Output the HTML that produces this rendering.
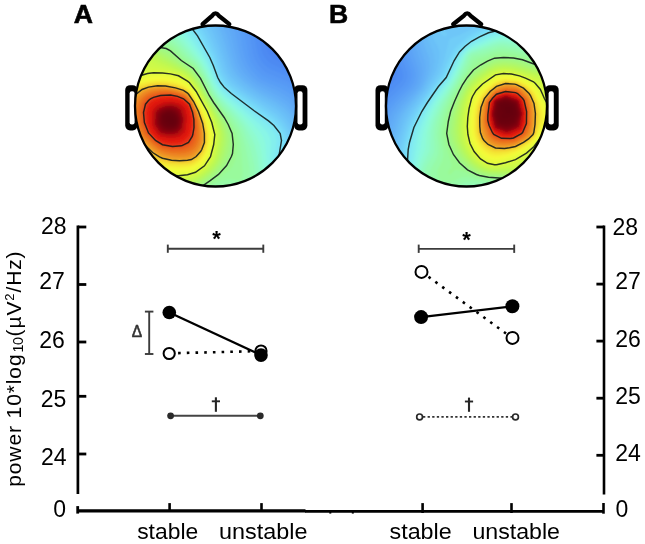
<!DOCTYPE html>
<html><head><meta charset="utf-8"><style>
html,body{margin:0;padding:0;background:#fff;}
svg{display:block;will-change:transform;}
</style></head><body>
<svg width="645" height="544" viewBox="0 0 645 544">
<defs><filter id="bl" x="-5%" y="-5%" width="110%" height="110%"><feGaussianBlur stdDeviation="1.1"/></filter></defs>
<rect width="645" height="544" fill="#fff"/>
<rect x="125.2" y="85.2" width="12.3" height="45.2" rx="4.8" fill="#000"/>
<rect x="129.6" y="91.2" width="5.0" height="33.2" rx="2.2" fill="#fff"/>
<rect x="294" y="85.2" width="13.4" height="45.2" rx="4.8" fill="#000"/>
<rect x="297.5" y="91.2" width="5.1" height="33.2" rx="2.2" fill="#fff"/>
<clipPath id="clipA"><circle cx="215.5" cy="106.0" r="81.0"/></clipPath>
<circle cx="215.5" cy="106.0" r="81.0" fill="#fff"/>
<g clip-path="url(#clipA)"><g filter="url(#bl)"><rect x="128" y="19" width="176" height="175" fill="rgb(70,126,240)"/>
<path d="M303.5 193.5 128.5 193.5 128.5 19.5 284.1 19.5 287.9 28.5 291.9 35.5 296.9 41.5 303.5 47.5 303.5 193.5Z" fill="#467ef0"/>
<path d="M303.5 193.5 128.5 193.5 128.5 19.5 277.4 19.5 281.9 32.5 286.3 40.5 292.5 47.1 303.5 55.5 303.5 193.5Z" fill="#4780f0"/>
<path d="M303.5 193.5 128.5 193.5 128.5 19.5 271.2 19.5 276.5 37.5 280.6 45.5 286.9 51.5 303.5 62.6 303.5 193.5Z" fill="#4983f1"/>
<path d="M303.5 193.5 128.5 193.5 128.5 19.5 265.6 19.5 271.2 42.5 274.5 49.6 277.1 52.5 281 55.5 295.5 63.8 303.5 69 303.5 193.5Z" fill="#4b86f2"/>
<path d="M303.5 193.5 128.5 193.5 128.5 19.5 260.3 19.5 266 46.5 267.5 50.9 269.5 54.2 275.6 59.5 292.5 68 303.5 75.2 303.5 193.5Z" fill="#4d8af2"/>
<path d="M303.5 193.5 128.5 193.5 128.5 19.5 255.2 19.5 258 30.5 261.4 49.5 263.2 54.5 265.5 58.2 268.5 61.4 272.5 64.3 290.5 72.5 303.5 81.3 303.5 193.5Z" fill="#508ff4"/>
<path d="M303.5 193.5 128.5 193.5 128.5 19.5 250.3 19.5 253.5 31.5 257 51.5 259.2 57.5 262.4 62.5 265.5 65.8 269.5 68.7 288.5 76.8 295.9 81.5 303.5 87.4 303.5 193.5Z" fill="#5394f4"/>
<path d="M303.5 193.5 128.5 193.5 128.5 19.5 245.4 19.5 248.9 31.5 252.8 53.5 255 59.5 258.6 65.5 262.5 69.7 266.5 72.7 287.5 81.7 295.5 86.8 303.5 93.4 303.5 193.5Z" fill="#5699f5"/>
<path d="M303.5 193.5 128.5 193.5 128.5 19.5 240.5 19.5 244.4 31.5 248.8 55.5 251.6 62.5 255.5 68.6 259.5 73 263.5 76.2 268.5 78.8 281.5 83.8 287.5 86.8 295.5 92.3 303.5 99.4 303.5 193.5Z" fill="#599ef6"/>
<path d="M303.5 193.5 128.5 193.5 128.5 19.5 235.5 19.5 240.1 32.5 243 49.5 245 57.5 248 64.5 251.9 70.5 257.5 76.5 262.5 80.3 280.5 88 289.5 93.1 296.5 98.6 303.5 105.5 303.5 193.5Z" fill="#5ca3f6"/>
<path d="M303.5 193.5 128.5 193.5 128.5 19.5 230.5 19.5 235.4 32.5 239.2 51.5 241.1 58.5 244 65.5 248.5 72.3 253.5 77.7 259.6 82.5 279.5 91.8 288.5 97.3 295.9 103.5 303.5 111.9 303.5 193.5Z" fill="#5fa8f6"/>
<path d="M303.5 193.5 128.5 193.5 128.5 19.5 225.4 19.5 230.9 33.5 237.6 60.5 240.8 67.5 244.5 73.1 250.6 79.5 257.5 84.8 278.6 95.5 287.5 101.3 295.5 108.7 303.5 118.7 303.5 193.5Z" fill="#62adf7"/>
<path d="M303.5 193.5 128.5 193.5 128.5 19.5 220.3 19.5 226.6 34.5 234.4 62.5 237.1 68.5 240.4 73.5 246.5 80.1 254.5 86.4 261.5 90.6 277.5 98.9 286.5 105.1 294.7 113.5 303.5 126.1 303.5 193.5Z" fill="#65b3f7"/>
<path d="M303.5 193.5 128.5 193.5 128.5 19.5 215.3 19.5 222.1 34.5 231.3 64.5 233.6 69.5 236.8 74.5 242.5 80.6 251.5 87.8 259.5 92.9 276.5 102.2 284.5 108 289.1 112.5 293.2 117.5 301.5 130.5 303.5 135 303.5 193.5Z" fill="#68baf7"/>
<path d="M301.5 193.5 128.5 193.5 128.5 19.5 210.3 19.5 214.6 27.5 218.1 35.5 228.5 66.7 231.4 72.5 234.2 76.5 240 82.5 249 89.5 257.5 95 274 104.5 281.5 109.9 288.8 117.5 297.3 130.5 299.6 135.5 301.3 141.5 303.1 154.5 303.5 182.4 302.3 193.5 301.5 193.5Z" fill="#6bc0f8"/>
<path d="M296.5 193.5 128.5 193.5 128.5 19.5 205.3 19.5 209.5 26.5 213.4 34.5 218.5 47.4 225.7 68.5 228.1 73.5 230.8 77.5 236.6 83.5 245.5 90.4 256.5 97.8 272.8 107.5 279.5 112.5 286.2 119.5 293.4 130.5 296.8 139.5 298.2 149.5 298.5 180.5 297.5 190.5 297 193.5 296.5 193.5Z" fill="#6ec6f8"/>
<path d="M291.5 193.5 128.5 193.5 128.5 19.5 200.2 19.5 205.5 27.5 209.7 35.5 216.9 52.5 223.5 71.3 228.4 79.5 233.3 84.5 241 90.5 276.9 114.5 283.5 121.2 289.7 130.5 292.8 138.5 293.7 146.5 293.4 181.5 292.6 189.5 291.9 193.5 291.5 193.5Z" fill="#71cdf8"/>
<path d="M286.5 193.5 128.5 193.5 128.5 19.5 195 19.5 201.5 28.4 206.1 36.5 214.9 55.5 221.3 73.5 226.3 81.5 230.1 85.5 236.5 90.6 274.5 116.7 280.5 122.5 286.2 130.5 288.6 136.5 289.6 143.5 288.3 160.5 288.6 181.5 287.7 189.5 286.5 193.5Z" fill="#74d5f8"/>
<path d="M281.5 193.5 128.5 193.5 128.5 19.5 189.5 19.5 190.5 20.6 197.5 29.4 202 36.5 212.3 56.5 219.3 75.5 224.5 83.6 227.5 86.8 233.5 91.7 272.5 119.4 277.9 124.5 283.2 131.5 285 136.5 285.6 142.5 283.3 159.5 284 174.5 283.8 182.5 282.8 189.5 281.5 193.5Z" fill="#79dff8"/>
<path d="M276.5 193.5 128.5 193.5 128.5 19.5 183.8 19.5 191.2 27.5 197.5 35.8 209.3 56.5 212.9 64.5 217.7 77.5 220.5 82.5 224.4 87.5 231.3 93.5 253.5 110.3 268.5 120.9 273.9 125.5 280.2 133.5 281.5 140.5 278.5 158.5 279.5 173.5 279.5 180.5 278.4 188.5 277 193.5 276.5 193.5Z" fill="#7fe8f4"/>
<path d="M271.5 193.5 128.5 193.5 128.5 19.5 177.7 19.5 187.9 29.5 195.5 39.3 207.4 58.5 210.8 65.5 215.8 78.5 219.2 84.5 222.5 88.9 229.5 95.4 265.3 123.5 272.5 130.5 275.6 135.5 276.5 140.5 274.4 157.5 275.3 173.5 275.2 180.5 273.8 188.5 272.1 193.5 271.5 193.5Z" fill="#84efed"/>
<path d="M266.5 193.5 128.5 193.5 128.5 19.5 171.3 19.5 184.5 31.3 193.5 42.4 205.5 60 208.8 66.5 215.5 82.1 221.5 91.2 226.5 96.2 240.5 107.5 258.6 123.5 266.6 131.5 269.6 136.5 270.8 141.5 270.4 157.5 271.3 174.5 270 185.5 268 191.5 267.1 193.5 266.5 193.5Z" fill="#89f6e6"/>
<path d="M261.5 193.5 128.5 193.5 128.5 19.5 164.7 19.5 177.5 29.8 187.2 39.5 202.5 59.5 207 67.5 214.5 84.1 219.9 92.5 225.5 98.5 244.6 115.5 254.3 125.5 260.3 132.5 263.4 137.5 265.3 143.5 267.4 171.5 267.1 178.5 265.9 184.5 263.6 190.5 261.5 193.5Z" fill="#8dfadb"/>
<path d="M255.5 193.5 128.5 193.5 128.5 19.5 157.8 19.5 178.5 35.3 184.6 41.5 201.5 61.9 206.5 70.7 213.8 86.5 218.5 93.9 223.5 99.6 240.3 115.5 250.5 127.5 256.4 136.5 259.6 143.5 261.4 151.5 263.3 167.5 263.3 175.5 262.1 182.5 259 189.5 256.5 192.9 255.5 193.5Z" fill="#90fbce"/>
<path d="M248.5 193.5 128.5 193.5 128.5 19.5 150.7 19.5 178.5 39.6 200.5 64 206 73.5 213.5 89.4 218.5 96.8 236.4 115.5 244.5 125.5 251.3 137.5 254.8 145.5 257.5 156.5 259.3 169.5 258.9 177.5 256.7 184.5 253.4 189.5 248.5 193.5Z" fill="#92fbc0"/>
<path d="M212.5 193.5 128.5 193.5 128.5 19.5 142.8 19.5 150.5 24 163.5 33.3 172.5 38.9 178.5 43.7 188.4 54.5 198.6 64.5 204.7 74.5 211.5 88.8 215.5 95.5 220.5 102 235.5 118.5 240.5 125.5 244 131.5 250.3 147.5 254.5 165.5 254.8 174.5 254.1 178.5 252.5 182.5 250.5 185.6 247.5 188.5 241.5 191.3 235.5 192 221.5 191.2 212.5 193.5Z" fill="#95fcb3"/>
<path d="M204.5 193.5 128.5 193.5 128.5 19.5 132.5 19.7 144.5 24.9 151.5 29.1 162.5 37 172.5 42.5 177.5 46.6 186.8 56.5 195.5 63.8 197.8 66.5 203.6 75.5 210.5 90 213.7 95.5 218.5 102.2 233 119.5 237.7 126.5 240.8 132.5 245.3 146.5 249.5 167.5 249.5 175.5 247.5 181.1 244.5 184.5 240.5 186.4 236.5 186.8 226.5 185.7 221.5 186 215.5 187.8 204.5 193.5Z" fill="#97fba7"/>
<path d="M199.5 193.5 128.5 193.5 128.5 23.2 136.5 25.6 144.5 29 151.5 33.2 161.5 40.5 171.5 45.2 175.7 48.5 185.5 58.5 194.7 65.5 203.1 77.5 212.5 96.1 216.5 102.1 228.8 117.5 237.1 131.5 240 141.5 241.6 152.5 242.9 172.5 242.6 175.5 241.5 178.3 240.5 179.5 238.5 180.3 228.5 179.4 221.5 180.9 213.5 184.7 199.5 193.5Z" fill="#99fa9c"/>
<path d="M193.5 193.5 128.5 193.5 128.5 27.7 136.5 29.7 144.5 32.8 151.5 36.9 160.5 43.9 169.5 47.1 173.5 50 183.3 59.5 194.4 67.5 201.6 77.5 209.4 93.5 213.5 100.1 225 115.5 228.9 121.5 234.5 132.5 236.6 143.5 236.8 153.5 235.5 159.9 232 167.5 229.1 170.5 221 176.5 200.5 190.1 193.5 193.5Z" fill="#9bf991"/>
<path d="M187.5 193.5 128.5 193.5 128.5 32.1 138.5 34.1 147.5 37.8 152.5 41 160.5 47.5 166.2 48.5 170.5 50.9 181.3 60.5 193.2 68.5 200.5 78.3 209.2 95.5 224.2 117.5 228.2 124.5 232.1 133.5 233.3 144.5 232.5 153.5 231.4 156.5 226.6 165.5 218.5 174.4 204.5 184.7 196.5 189.8 187.5 193.5Z" fill="#9ff887"/>
<path d="M178.5 193.5 128.5 193.5 128.5 36.4 138.5 37.7 147.5 41 151.5 43.3 159.5 49.4 165.5 51.4 169.5 53.6 180.5 62.2 191.7 69.5 199.5 79.2 208.5 96.4 222.2 117.5 226.4 125.5 229 132.5 229.9 136.5 230.1 142.5 228.8 152.5 224.5 162.5 218.7 170.5 210.5 177.9 198.5 186.3 188.5 190.9 178.5 193.5Z" fill="#a5f87c"/>
<path d="M164.5 193.5 128.5 193.5 128.5 40.7 139.5 41.3 148.5 44.3 158.5 51.1 168.5 56 191.5 71.5 198.8 80.5 207.5 96.8 220.4 117.5 224.7 126.5 226.9 133.5 227.4 137.5 227.3 143.5 225.1 154.5 221 163.5 213.9 172.5 202.5 181.6 192.5 187.1 181.5 190.6 164.5 193.5Z" fill="#abf871"/>
<path d="M150.5 193.5 128.5 193.5 128.5 45.1 139.5 44.6 144.5 45.5 148.5 46.9 159.5 54 184.5 68.3 190.5 72.5 198 81.5 206.5 97 218.2 116.5 222.9 126.5 225 134.5 225.2 139.5 224.6 145.5 223.1 152.5 221.1 158.5 218.5 163.5 215.1 168.5 211.4 172.5 206.8 176.5 197.5 182.8 187.5 186.9 179.5 188.7 150.5 193.5Z" fill="#b1f866"/>
<path d="M134.5 193.5 128.5 193.5 128.5 49.8 135.5 48.3 141.5 48 146.5 48.7 151.5 50.8 161.5 57.8 185.5 70.5 192.5 76.4 195.9 80.5 199.5 86.1 217.7 118.5 222.1 129.5 223 133.5 223.2 138.5 222.4 145.5 220.9 152.5 219 158.5 217 162.5 213.7 167.5 210.2 171.5 200.5 179.2 192.5 183.2 184.5 185.6 159.5 188.9 134.5 193.5Z" fill="#b7f85b"/>
<path d="M133.5 190.5 128.5 190.8 128.5 55.1 138.5 51.8 145.5 51.2 150.5 52.6 161.5 60.7 183.5 70.9 188.5 74.3 193.5 79.2 200.3 89.5 212.2 110.5 216.7 119.5 221 131.5 221.3 139.5 218.7 153.5 217.1 158.5 215.1 162.5 211.7 167.5 208.5 171.1 198.5 178.6 191.5 181.8 183.5 183.9 158.5 186.3 133.5 190.5Z" fill="#bef853"/>
<path d="M130.5 187.5 128.5 187.5 128.5 61 141.5 55.4 147.5 54.5 150.5 55.4 156.2 60.5 160.5 63.1 182.5 71.8 188.5 75.9 193.1 80.5 199.8 90.5 211.1 110.5 215.4 119.5 219.7 132.5 219.9 136.5 219.4 141.5 216.5 155.5 213.5 162.2 207.5 170.1 202.2 174.5 197.5 177.5 190.5 180.4 182.5 182.2 158.5 183.7 139.5 186.8 130.5 187.5Z" fill="#c5f94e"/>
<path d="M142.5 183.6 135.5 184.3 128.5 184.3 128.5 66.4 136.5 64.6 144.5 60.5 147.5 59.9 149.5 60.5 159 65.5 180.5 72.2 186.5 76 191.5 80.2 198.5 90.1 210.5 111.5 215.6 123.5 218.1 131.5 218.5 135.5 217.1 146.5 215 155.5 213.5 159.3 207.2 168.5 198.5 175.3 190.5 178.7 183.5 180.2 177.5 180.8 157.5 181.3 142.5 183.6Z" fill="#ccf949"/>
<path d="M144.5 180.6 136.5 181.4 128.5 181.2 128.5 70.7 139.5 69.6 146.5 67.3 150.5 66.9 169.5 70.4 178.5 72.9 182.5 74.8 190.5 80.7 197.7 90.5 209.4 111.5 214 122.5 216.7 131.5 217.2 135.5 215.9 145.5 212.5 158.3 206.4 167.5 198.5 173.8 190.5 177.1 182.5 178.6 177.5 179 157.5 178.9 144.5 180.6Z" fill="#d3f944"/>
<path d="M139.5 178.6 128.5 178.1 128.5 74 140.5 73.1 147.5 71 154.5 70.4 170.5 72.3 179.5 74.6 189.5 81.2 196.5 90.3 208.4 111.5 212.1 120.5 216 134.5 214.8 144.5 211.9 156.5 206.5 165.3 204.5 167.6 196.5 173.4 189.5 175.8 178.5 177.3 155.5 176.7 139.5 178.6Z" fill="#dafa3f"/>
<path d="M179.5 175.6 155.5 174.4 136.5 176 128.5 175 128.5 76.8 140.9 75.5 147.5 73.5 154.5 72.6 170.5 73.9 179.5 76.1 188.2 81.5 190.2 83.5 196.2 91.5 207.3 111.5 211.8 122.5 214.7 133.5 213.7 144.5 210.6 156.5 204.5 165.8 196.5 171.9 188.5 174.5 179.5 175.6Z" fill="#e1fa3c"/>
<path d="M184.5 173.6 177.5 174 154.5 172.1 137.5 173.4 128.5 171.8 128.5 79.3 153.5 74.6 162.5 74.7 171.5 75.7 179.5 77.7 187.5 82.5 195.8 92.5 206.3 111.5 210.7 122.5 213.5 133.5 212.7 143.5 209.5 155.9 203.5 164.9 195.5 170.8 188.5 173 184.5 173.6Z" fill="#e6fb3b"/>
<path d="M188.5 171.5 177.5 172.4 153.5 170 138.5 170.9 133.5 170.2 128.5 168.4 128.5 81.6 134.5 79.7 153.5 76.3 161.5 76.1 170.5 77 178.5 78.9 186.5 83.2 189.5 85.9 194.8 92.5 205.2 111.5 208.9 120.5 212.2 132.5 212.2 138.5 211.5 144.5 208.8 154.5 204.5 161.6 202.1 164.5 196.5 168.6 193.5 170.1 188.5 171.5Z" fill="#ecfb3b"/>
<path d="M185.5 170.5 174.5 170.7 153.5 167.9 138.5 168.3 133.5 167.2 128.5 164.7 128.5 84 135.5 81.2 150.5 78.1 158.5 77.5 168.5 78.2 177.5 80.1 184.8 83.5 188.5 86.2 193.8 92.5 204.3 111.5 208.3 121.5 211.3 133.5 211 141.5 210.1 146.5 207.6 154.5 202.5 162.2 199.5 165 194.5 168.2 185.5 170.5Z" fill="#f1fc3a"/>
<path d="M188.5 168.6 176.5 169.3 167.5 168.4 152.5 165.9 139.5 165.9 133.5 163.9 128.5 160 128.5 86.3 136.4 82.5 147.5 80 155.5 78.9 164.5 79.1 175.5 81 182.5 83.6 187.5 86.7 192.5 92.1 202.3 109.5 206.3 118.5 209.9 131.5 210.3 138.5 209.6 144.5 207.6 151.5 205.9 155.5 203.5 159 200.5 162.6 196.5 165.6 192.5 167.6 188.5 168.6Z" fill="#f4f839"/>
<path d="M186.5 167.6 179.5 167.9 172.5 167.5 151.5 163.6 139.5 163.1 136.5 162 134.3 160.5 129.9 155.5 128.5 153.5 128.5 88.9 130.3 87.5 137.5 83.7 147.5 81.3 156.5 80.2 164.5 80.4 174.5 82.1 182.5 84.9 187.5 87.9 191.9 92.5 201.4 109.5 206.1 120.5 209.1 132.5 209.3 140.5 208.4 145.5 206.2 152.5 201.5 159.7 198.5 162.7 194.5 165.3 190.5 166.8 186.5 167.6Z" fill="#f4f037"/>
<path d="M189.5 165.7 179.5 166.5 167.5 165.4 149.5 160.9 140.5 160 137.8 158.5 135.2 155.5 128.5 146 128.5 91.5 132.2 88.5 138.5 84.8 146.5 82.8 155.5 81.4 163.5 81.5 173.5 83.1 182.5 86 186.5 88.2 190.9 92.5 200.1 108.5 204.8 119.5 207.9 131.5 208.4 138.5 207.2 146.5 205.5 151.5 203.3 155.5 200.5 159.1 197.5 161.9 193.5 164.3 189.5 165.7Z" fill="#f4e835"/>
<path d="M187.5 164.6 178.5 165 168.5 164.1 159.5 162 145.2 156.5 142.5 155.1 139.5 152.6 132.5 145.3 128.5 140.1 128.5 94.4 136.5 87.6 141 85.5 149.5 83.4 157.5 82.5 165.5 82.8 175.5 84.8 182.5 87.1 187.5 90.1 190.7 93.5 195.1 100.5 199.8 109.5 204.3 120.5 207.2 132.5 207.4 140.5 206.8 144.5 204.8 150.5 200.5 157.3 197.5 160.3 194.5 162.4 191.5 163.7 187.5 164.6Z" fill="#f4e033"/>
<path d="M183.5 163.5 169.5 162.8 160.5 160.7 155.6 158.5 148.5 154.5 136.5 144.8 132.4 140.5 128.9 135.5 128.5 134.8 128.5 97.5 133 92.5 139.5 87.7 148.5 84.7 157.5 83.6 166.5 84 174.5 85.6 183.5 88.6 187.5 91.1 189.8 93.5 194.4 100.5 199.9 111.5 204.1 122.5 206.3 133.5 206.3 142.5 203.2 151.5 197.8 158.5 191.5 162.4 183.5 163.5Z" fill="#f3d230"/>
<path d="M188.5 161.7 180.5 162.2 171.5 161.7 159.5 158.7 151.5 153.9 145.5 148.3 138.5 143.2 134.8 139.5 131.8 135.5 128.5 129.4 128.5 101.2 133.5 94.5 140.5 88.8 143.5 87.5 151.5 85.4 158.5 84.7 167.5 85.2 175.5 86.9 184.5 90.1 188.5 93 193.1 99.5 198.8 110.5 203 121.5 205.4 133.5 205.5 141.5 202.6 150.5 198.5 155.9 196.5 158 192.5 160.5 188.5 161.7Z" fill="#f1be2d"/>
<path d="M184.5 160.5 171.5 160.3 160.5 157.5 152.6 152.5 146.5 146.5 139.7 141.5 135.9 137.5 133.1 133.5 130.1 127.5 128.5 122.4 128.5 106.5 130.5 101.5 133.1 97.5 136.5 93.9 142.1 89.5 149.5 86.8 157.5 85.7 165.5 86 174.5 87.6 182.5 90 186.5 92.4 188.5 94.1 193 100.5 198.1 110.5 202.4 122.5 204.4 133.5 204.5 141.6 201.3 150.5 196.5 156.2 191.4 159.5 184.5 160.5Z" fill="#efaa2a"/>
<path d="M188.5 158.7 180.5 159.3 172.5 159 161.5 156.3 153.5 151.2 140.2 139.5 136 134.5 132.7 128.5 130.7 122.5 129.5 115.5 129.8 109.5 131.1 104.5 133.7 99.5 137 95.5 142.5 90.9 149.5 88 157.5 86.8 165.5 87 173.5 88.3 182.5 90.9 185.5 92.6 187.9 94.5 192.4 100.5 197.8 111.5 201.6 122.5 203.4 133.5 203.4 141.5 200.9 148.5 198.9 151.5 194.5 156 191.5 157.7 188.5 158.7Z" fill="#ee9b27"/>
<path d="M185.5 157.6 172.5 157.5 161.5 154.6 153.5 149.3 141.5 138.6 137.5 133.5 134.3 127.5 132.4 121.5 131.5 115.5 131.7 109.5 133 104.5 135.6 99.5 139.1 95.5 143.5 91.9 149.5 89.3 157.5 87.9 165.5 87.9 173.5 89.2 181.5 91.4 185.5 93.5 187.5 95.1 192.4 101.5 197.2 111.5 200.7 122.5 202.3 133.5 202.3 140.5 201.6 143.5 199.5 148.4 196.5 152.2 191.5 156 185.5 157.6Z" fill="#ed9225"/>
<path d="M187.5 155.7 180.5 156.4 173.5 156.1 162.5 153.6 157.5 150.8 153.5 147.7 143.3 138.5 140 134.5 137.1 129.5 134.8 123.5 133.5 117.5 133.3 111.5 134.1 106.5 136.2 101.5 139 97.5 143.5 93.4 148.5 90.8 154.5 89.3 161.5 88.8 169.5 89.3 176.5 90.8 183.5 93.1 186.9 95.5 191.5 101 196.6 111.5 199.6 121.5 201.2 132.5 201.2 138.5 200.3 143.5 197.1 149.5 192.5 153.7 187.5 155.7Z" fill="#ed8823"/>
<path d="M184.5 154.6 172.5 154.6 166.5 153.4 161.5 151.7 157.5 149.3 152.5 145.3 144.1 137.5 141.1 133.5 137.9 127.5 136.2 122.5 135.1 116.5 135 110.5 136.1 105.5 138.5 100.5 141.8 96.5 145.5 93.6 150.5 91.3 157.5 89.9 165.5 89.8 172.5 90.7 180.5 92.7 184.5 94.5 187.5 97 191.5 101.8 196 111.5 198.8 121.5 200.1 132.5 199.9 139.5 197.9 145.5 194.5 150.1 190.5 152.9 184.5 154.6Z" fill="#ec7f21"/>
<path d="M186.5 152.6 180.5 153.5 173.5 153.3 167.5 152.3 162.5 150.8 158.5 148.6 153.5 144.8 145.7 137.5 143.3 134.5 140 128.5 138.1 123.5 136.9 117.5 136.5 111.5 137.4 106.5 138.9 102.5 141.7 98.5 145.5 95.1 150.5 92.5 156.5 91.1 162.5 90.6 170.5 91.1 178.5 92.9 183.5 94.8 186.5 96.9 190.6 101.5 195 110.5 197.6 119.5 198.8 127.5 199 136.5 198.1 141.5 195.5 146.7 191.5 150.5 186.5 152.6Z" fill="#eb761f"/>
<path d="M183.5 151.6 172.5 151.8 162.5 149.5 158.5 147.2 153.5 143.5 144.7 134.5 139.6 123.5 138.3 116.5 138.1 111.5 138.9 106.5 140.5 102.5 143.4 98.5 147 95.5 151.5 93.3 158.5 91.8 165.5 91.6 171.5 92.1 178.5 93.6 183.5 95.6 186.5 97.8 190.8 102.5 194.8 111.5 197.1 120.5 197.9 128.5 197.6 137.5 195.6 143.5 192.7 147.5 188.5 150.2 183.5 151.6Z" fill="#ea6d1e"/>
<path d="M179.5 150.5 170.5 150.2 161.5 147.8 153.5 142.2 145.3 133.5 140.7 122.5 139.6 114.5 139.6 110.5 140.8 105.5 142.6 101.5 145.5 98.2 149.2 95.5 153.5 93.9 159.5 92.7 167.5 92.5 172.5 93 178.5 94.4 183.5 96.4 186.5 98.6 190.9 103.5 194.2 111.5 196.3 120.5 196.9 128.5 196.2 137.5 193.8 143.5 190.5 147.1 185.5 149.5 179.5 150.5Z" fill="#e9651d"/>
<path d="M182.5 148.7 172.5 149.1 162.5 147 154.5 141.9 146.6 133.5 142.3 123.5 140.9 111.5 143 103.5 145 100.5 148.5 97.3 152.5 95.3 159.5 93.7 170.5 93.5 178.5 95.1 183.5 97.2 185.5 98.5 190.3 103.5 193.6 111.5 195.4 119.5 196 127.5 195.3 135.5 193.6 140.5 191 144.5 187.5 146.9 182.5 148.7Z" fill="#e85c1c"/>
<path d="M180.5 147.5 171.5 147.7 162.5 145.9 155.5 141.5 147.7 133.5 143.5 123.5 142.3 111.5 144.4 103.5 147.8 99.5 150.4 97.5 153.5 96.2 160.5 94.5 170.5 94.3 177.5 95.6 183.5 98 189.7 103.5 192.9 111.5 194.7 119.5 195 127.5 194 135.5 192.5 139.1 189.5 143.7 183.9 146.5 180.5 147.5Z" fill="#e74a19"/>
<path d="M181.5 145.8 172.5 146.5 162.5 144.7 155.5 140.4 148.5 132.9 144.4 122.5 143.5 112.5 145.5 104.2 150.5 98.9 153.5 97.4 160.5 95.5 170.5 95.1 177.5 96.4 183.5 98.8 189.5 104.2 192.5 112.2 193.9 119.5 194 127.5 192.8 134.5 192.2 136.5 188.5 142.4 181.5 145.8Z" fill="#e63816"/>
<path d="M179.5 144.7 171.5 145.2 163.5 143.9 155.9 139.5 149.4 132.5 145.6 122.5 144.8 112.5 147 104.5 149.5 101.4 151.8 99.5 160.5 96.6 170.5 96 177.5 97.2 182.5 99.2 188.9 104.5 191.6 111.5 193.1 119.5 192.9 127.5 192 132.5 190.6 136.5 187.5 140.9 182.5 143.7 179.5 144.7Z" fill="#e52d14"/>
<path d="M177.5 143.6 170.5 143.8 162.5 142.3 156.5 138.9 150 131.5 146.7 122.5 146.1 112.5 148 105.5 150.2 102.5 152.6 100.5 161.5 97.5 171.5 97 177.5 98.1 182.5 100 188.5 105.2 191.1 112.5 192.2 119.5 191.8 127.5 190.8 132.5 189.5 135.7 186.5 139.6 181.5 142.6 177.5 143.6Z" fill="#e42212"/>
<path d="M175.5 142.6 166.5 142.2 160.5 140.3 155.5 136.8 150.5 130.4 147.7 122.5 147.4 111.5 149.5 105.5 151.5 103 154.5 100.9 162.5 98.4 169.5 97.7 173.5 98.1 177.5 99 182.5 101 186.5 104 188.3 106.5 190.3 112.5 191.2 119.5 190.7 127.5 189.5 132.5 187.5 136.4 184.5 139.4 180.5 141.5 175.5 142.6Z" fill="#e31e11"/>
<path d="M173.5 141.5 165.5 141 159.1 138.5 154.5 134.5 150.5 128.3 148.6 121.5 148.3 114.5 148.8 110.5 149.9 107.5 151.5 104.9 153.5 103 156.5 101.3 161.5 99.7 167.5 98.8 175.5 99.4 179.5 100.6 183.3 102.5 186.5 105.3 187.8 107.5 189.5 113.1 190.3 119.5 189.6 127.5 188.3 132.5 185.8 136.5 182.5 139.1 178.5 140.8 173.5 141.5Z" fill="#e21a10"/>
<path d="M178.5 139.5 171.5 140.4 163.5 139.4 157.6 136.5 153.3 131.5 151.1 127.5 149.8 123.5 149.5 113.5 151.2 107.5 155 103.5 162.5 100.6 171.5 99.7 176.5 100.5 180.5 101.9 183.5 103.7 186.3 106.5 188.2 111.5 189.2 117.5 189.2 121.5 188 129.5 186.5 133.4 184.5 136 181.5 138.3 178.5 139.5Z" fill="#de1710"/>
<path d="M177.5 138.6 170.5 139.3 162.5 138 157.7 135.5 153.7 130.5 151.6 126.5 150.8 123.5 150.6 113.5 152 108.5 155.8 104.5 163.5 101.5 171.5 100.6 179.5 102.5 183 104.5 185.5 107.2 187.1 111.5 188.2 118.5 186.8 129.5 185.7 132.5 183.5 135.2 180.5 137.4 177.5 138.6Z" fill="#d51410"/>
<path d="M176.5 137.6 169.5 138.2 161.5 136.7 157.8 134.5 154.2 129.5 152.5 126.5 151.7 123.5 151.7 113.5 153.4 108.5 156.5 105.5 163.5 102.6 171.5 101.6 179.3 103.5 182.5 105.5 184.4 107.5 185.7 110.5 187.1 118.5 185.7 129.5 184.5 132.2 182.5 134.5 179.5 136.6 176.5 137.6Z" fill="#cc1110"/>
<path d="M175.5 136.7 167.5 136.9 160.5 135.3 158 133.5 154.1 127.5 152.6 123.5 152.8 113.5 154.2 109.5 157.5 106.3 164.5 103.5 171.5 102.6 178.9 104.5 182 106.5 183.6 108.5 186.1 118.5 184.5 129.5 183.5 131.7 181.5 133.7 178.5 135.7 175.5 136.7Z" fill="#c30e10"/>
<path d="M174.5 135.6 170.5 136 166.5 135.7 160.5 134.2 158.4 132.5 154.5 126.4 153.5 123.5 154 112.5 155.6 109.5 158.5 107 164.5 104.6 171.5 103.6 177.5 105.1 182.1 108.5 185 118.5 183.3 129.5 182.1 131.5 178.5 134.4 174.5 135.6Z" fill="#b60b10"/>
<path d="M173.5 134.6 170.5 135 165.5 134.5 160.5 133.1 158.9 131.5 154.6 124.5 154.8 114.5 155.7 111.5 158.5 108.4 164.5 105.7 170.5 104.6 175.5 105.6 177.5 106.4 180.4 108.5 181.6 110.5 183.9 119.5 182.1 129.5 177.5 133.6 173.5 134.6Z" fill="#a5080f"/>
<path d="M173.5 133.5 166.5 133.6 161.5 132.3 159.5 130.4 155.8 124.5 155.9 115.5 156.5 112.5 159.5 109.1 164.5 106.8 170.5 105.7 176.5 107.2 179.5 109.6 181.6 114.5 182.9 119.5 181.1 128.5 177.5 132.2 173.5 133.5Z" fill="#94050e"/>
<path d="M172.5 132.6 166.5 132.5 162.5 131.4 159.5 128.5 156.8 123.5 156.9 115.5 157.8 112.5 160.5 109.8 165.5 107.5 171.5 106.9 176.5 108.7 179.2 111.5 181.5 117.5 181.7 121.5 179.8 128.5 176.5 131.4 172.5 132.6Z" fill="#89040e"/>
<path d="M172.5 131.6 167.5 131.6 163.4 130.5 160.5 128 158 123.5 157.8 117.5 158.6 113.5 161.4 110.5 165.5 108.6 170.5 107.9 175.5 109.5 178.4 112.5 180.5 117.5 180.8 121.5 179.1 127.5 176.5 130.1 172.5 131.6Z" fill="#82030d"/>
<path d="M171.5 130.6 167.5 130.5 163.5 129.1 160.5 126 158.9 122.5 158.8 117.5 160 113.5 162.5 111 166.5 109.4 170.5 109.1 174.9 110.5 177.7 113.5 179.8 118.5 179.6 123.5 177.8 127.5 175.4 129.5 171.5 130.6Z" fill="#7b020c"/>
<path d="M171.5 129.5 167.5 129.4 164.5 128.3 161.5 125.5 160.1 122.5 159.8 118.5 160.7 114.5 162.5 112.4 166.5 110.4 170.5 110.2 174.5 111.7 177.1 114.5 178.8 118.5 178.9 122.5 177.5 126.2 174.9 128.5 171.5 129.5Z" fill="#74010b"/>
<path d="M173.5 127.9 170.5 128.5 167.5 128.1 164.5 126.8 162.4 124.5 161.1 121.5 161 117.5 162.1 114.5 164.5 112.3 167.5 111.3 171.5 111.6 174.5 113.2 176.5 115.5 178.1 119.5 178 122.5 176.5 125.8 173.5 127.9Z" fill="#6f000a"/>
<path d="M173.5 126.7 170.5 127.3 167.5 126.8 165.1 125.5 163.5 123.8 162.4 121.5 162.1 118.5 162.9 115.5 164.5 113.7 167.5 112.5 170.5 112.6 173.5 114 175.5 116.1 177.1 119.5 177.1 122.5 175.5 125.4 173.5 126.7Z" fill="#6c000a"/>
<path d="M172.5 125.7 168.1 125.5 166.2 124.5 164.5 122.6 163.6 120.5 163.5 117.8 164.4 115.5 165.5 114.5 167.5 113.8 170.5 114 173.2 115.5 175 117.5 176.2 120.5 176 122.5 174.5 124.7 172.5 125.7Z" fill="#690009"/>
<path d="M173.5 123.6 171.5 124.3 169.5 124.1 166.6 122.5 165.2 119.5 165.7 116.5 168.5 115.4 170.5 115.8 172.5 117 174.8 120.5 174.6 122.5 173.5 123.6Z" fill="#660009"/>
<path d="M170.5 121.5 168.9 120.5 168.5 119.5 169.5 118.9 171.1 119.5 171.8 120.5 171.5 121.2 170.5 121.5Z" fill="#630009"/></g>
<g fill="none" stroke="#141c1c" stroke-width="1.45" stroke-opacity="0.9">
<path d="M183.8 19.5 191.2 27.5 197.5 35.8 209.8 57.5 213.3 65.5 217.7 77.5 220.5 82.5 224.5 87.6 231.3 93.5 253.8 110.5 268.5 120.9 273.9 125.5 280.2 133.5 281.5 140.5 278.5 158.5 279.5 172.5 279.5 179.5 278.8 186.5 277 193.5"/>
<path d="M128.5 32.1 138.5 34.1 147.5 37.8 152.5 41 160.5 47.5 166.2 48.5 170.5 50.9 181.3 60.5 193.2 68.5 200.5 78.3 209.2 95.5 213.6 102.5 224.2 117.5 228.2 124.5 232.1 133.5 233.3 144.5 232.5 153.5 231.4 156.5 226.6 165.5 218.5 174.4 209.5 181.1 198.5 188.7 188 193.5"/>
<path d="M128.5 76.8 133.5 75.9 140.9 75.5 147.5 73.5 153.5 72.7 162.5 73 170.5 73.9 178.5 75.8 187.5 81.1 189.5 82.7 196.2 91.5 207.3 111.5 211.8 122.5 214.8 134.5 213.7 144.5 210.5 156.7 204.5 165.8 195.5 172.3 187.5 174.8 178.5 175.7 156.5 174.4 138.5 176 133.5 175.8 128.5 175"/>
<path d="M128.5 106.5 131 100.5 135.5 94.8 142.1 89.5 148.5 87.1 157.5 85.7 165.5 86 175.5 87.9 183.5 90.4 187.5 93.1 188.8 94.5 193.6 101.5 198.5 111.5 202.7 123.5 204.4 133.5 204.4 142.5 201.8 149.5 200.6 151.5 196.2 156.5 191.4 159.5 187.5 160.3 179.5 160.8 171.5 160.3 162.5 158.2 159.5 156.9 152.6 152.5 146.5 146.5 137.6 139.5 134.4 135.5 132 131.5 128.5 122.4"/>
<path d="M181.5 145.8 172.5 146.5 162.5 144.7 155.5 140.4 148.5 132.9 144.4 122.5 143.5 112.5 145.5 104.2 148.5 100.5 150.5 98.9 153.5 97.4 160.5 95.5 170.5 95.1 177.5 96.4 183.5 98.8 189.5 104.2 192.5 112.2 193.9 119.5 194 127.5 192.8 134.5 192.2 136.5 188.5 142.4 181.5 145.8"/>
</g></g>
<circle cx="215.5" cy="106.0" r="80.5" fill="none" stroke="#000" stroke-width="2.3"/>
<path d="M202.6 24.2 L212.3 15.6 Q215.5 11.2 218.7 15.6 L229.3 24.2" fill="none" stroke="#000" stroke-width="4.3" stroke-linejoin="round" stroke-linecap="round"/>
<rect x="375.5" y="85.2" width="13.0" height="45.2" rx="4.8" fill="#000"/>
<rect x="380.0" y="91.2" width="4.8" height="33.2" rx="2.2" fill="#fff"/>
<rect x="545" y="85.2" width="13.7" height="45.2" rx="4.8" fill="#000"/>
<rect x="548.6" y="91.2" width="5.2" height="33.2" rx="2.2" fill="#fff"/>
<clipPath id="clipB"><circle cx="466.5" cy="106.0" r="81.0"/></clipPath>
<circle cx="466.5" cy="106.0" r="81.0" fill="#fff"/>
<g clip-path="url(#clipB)"><g filter="url(#bl)"><rect x="379" y="19" width="176" height="175" fill="rgb(73,131,241)"/>
<path d="M554.5 193.5 379.5 193.5 379.5 78.6 381.1 74.5 381.6 70.5 381.1 65.5 379.5 59.6 379.5 19.5 554.5 19.5 554.5 193.5Z" fill="#4b86f2"/>
<path d="M554.5 193.5 379.5 193.5 379.5 89.6 387.6 79.5 389.5 75.5 389.9 72.5 388.3 64.5 379.5 41.8 379.5 19.5 554.5 19.5 554.5 193.5Z" fill="#4d8af2"/>
<path d="M554.5 193.5 379.5 193.5 379.5 97.2 394.5 81.2 396.8 77.5 397.3 74.5 395.8 67.5 387.7 48.5 384.1 38.5 381.4 28.5 380 19.5 554.5 19.5 554.5 193.5Z" fill="#508ff4"/>
<path d="M554.5 193.5 379.5 193.5 379.5 104.2 387.5 94.8 400.3 82.5 402.4 79.5 403.2 76.5 402.9 72.5 401.7 68.5 393.4 49.5 389.3 38.5 386.8 28.5 385.6 19.5 554.5 19.5 554.5 193.5Z" fill="#5394f4"/>
<path d="M554.5 193.5 379.5 193.5 379.5 111.5 383.5 105.5 388.5 99.5 404 84.5 406.5 80.5 407.5 76.5 407.3 72.5 406.2 68.5 397.8 48.5 394 37.5 391.9 28.5 390.9 19.5 554.5 19.5 554.5 193.5Z" fill="#5699f5"/>
<path d="M554.5 193.5 379.5 193.5 379.5 119.8 384 111.5 389 104.5 394.4 98.5 407.8 85.5 410.1 81.5 411.3 76.5 411.2 72.5 410.2 68.5 402 47.5 398.8 37.5 396.8 28.5 396.1 19.5 554.5 19.5 554.5 193.5Z" fill="#599ef6"/>
<path d="M554.5 193.5 379.5 193.5 379.5 129.6 385 117.5 388.9 110.5 395.5 102.2 410.3 87.5 413.3 82.5 414.7 77.5 414.9 73.5 414.1 68.5 406.1 46.5 403.1 36.5 401.5 27.5 401.2 19.5 554.5 19.5 554.5 193.5Z" fill="#5ca3f6"/>
<path d="M554.5 193.5 379.5 193.5 379.5 139.7 388.5 118.5 391.6 112.5 397.7 104.5 414 87.5 416.5 83 418 77.5 418.3 72.5 417.6 67.5 410.1 45.5 407.4 35.5 406.3 27.5 406.3 19.5 554.5 19.5 554.5 193.5Z" fill="#5fa8f6"/>
<path d="M554.5 193.5 379.5 193.5 379.5 150.2 394.3 114.5 400.9 105.5 416.6 88.5 419.4 83.5 421.4 76.5 421.8 70.5 421.2 65.5 414 43.5 411.8 34.5 411 26.5 411.4 19.5 554.5 19.5 554.5 193.5Z" fill="#62adf7"/>
<path d="M554.5 193.5 379.5 193.5 379.5 162 384.8 147.5 397.5 115.5 403.8 106.5 419.6 88.5 422.6 82.5 424.7 75.5 425.6 68.5 425 62.5 418.1 41.5 416.3 33.5 415.9 26.5 416.7 19.5 554.5 19.5 554.5 193.5Z" fill="#65b3f7"/>
<path d="M554.5 193.5 379.5 193.5 379.8 175.5 388 149.5 395.1 131.5 399.1 119.5 401.6 114.5 405 109.5 422.2 88.5 426.1 80.5 428.7 72.5 429.7 65.5 429.1 58.5 422.7 40.5 421.1 33.5 420.9 26.5 422.5 19.5 554.5 19.5 554.5 193.5Z" fill="#68baf7"/>
<path d="M554.5 193.5 381.3 193.5 382.6 182.5 385.5 170.5 392.7 146.5 398.5 131.7 402 120.5 404.4 115.5 408.3 109.5 424 89.5 429.7 78.5 433.2 69.5 434.3 62.5 434 55.5 432.5 50.5 427.7 39.5 426.1 32.5 426.6 25.5 429.2 19.5 554.5 19.5 554.5 193.5Z" fill="#6bc0f8"/>
<path d="M554.5 193.5 385.9 193.5 386.8 183.5 389.1 172.5 396.2 146.5 404.7 121.5 410.8 110.5 427 88.5 434.8 74.5 437.7 67.5 439.6 58.5 439.6 51.5 437.9 46.5 433 37.5 431.8 31.5 432.2 28.5 433.3 25.5 436.9 21.5 441.5 19.5 447 19.5 458.5 23.1 463.5 23.6 469.5 22.7 480.9 19.5 554.5 19.5 554.5 193.5Z" fill="#6ec6f8"/>
<path d="M554.5 193.5 390.4 193.5 390.9 184.5 392.7 174.5 399.7 145.5 406.8 123.5 409.7 117.5 413.8 110.5 426.5 92.9 439.4 72.5 444.5 58.5 449.1 40.5 450.1 38.5 458.5 35.4 479.5 25.2 487.5 22.5 498.6 19.5 551.4 19.5 554.5 20 554.5 193.5ZM446.5 36 444.5 36.1 441.5 34.6 440.5 33.4 440.5 31.4 442.5 30.4 445.2 31.5 447 34.5 446.5 36Z" fill="#71cdf8"/>
<path d="M554.5 193.5 394.8 193.5 394.8 186.5 395.6 179.5 400.2 160.5 402.5 146.5 408.2 127.5 411.7 119.5 418.6 107.5 441.5 74.9 449.5 57 453.7 49.5 458.5 44.4 467.5 36.7 473.5 32.9 480.5 29.3 487.5 26.5 497.5 23.7 505.5 22 512.5 21.2 528.5 21.5 554.5 24.7 554.5 193.5Z" fill="#74d5f8"/>
<path d="M554.5 193.5 399.2 193.5 398.9 186.5 399.4 179.5 403.9 160.5 405.8 145.5 411 127.5 416.3 116.5 420.8 108.5 432.5 91.1 437.5 84.1 443.8 76.5 451.8 59.5 456.6 51.5 463.5 44.6 470.5 38.8 478.5 34 484.5 31.3 501.5 26.3 513.5 24.9 527.5 25.6 554.5 29.2 554.5 193.5Z" fill="#79dff8"/>
<path d="M554.5 193.5 403.5 193.5 402.8 185.5 403.5 176.5 407.5 160.5 408.2 149.5 409.8 141.5 414.5 126.2 421.8 111.5 427.4 102.5 438.4 86.5 446.2 77.5 453.7 61.5 458.5 53.1 464.5 46.9 470.5 42.1 480.5 36.3 488.5 32.8 495.5 30.9 503.5 29 510.5 28.3 523.5 29 554.5 33.4 554.5 193.5Z" fill="#7fe8f4"/>
<path d="M554.5 193.5 407.9 193.5 406.7 186.5 406.8 178.5 408 171.5 410.8 160.5 413 142.5 416.5 129.4 423.3 114.5 435.3 94.5 448.1 78.5 456.2 61.5 460.8 53.5 464.5 49.5 468.5 46.1 473.5 42.7 480.5 39.1 488.5 35.7 494.5 33.9 502.5 32.1 509.5 31.5 521.5 32.3 554.5 37.5 554.5 193.5Z" fill="#84efed"/>
<path d="M554.5 193.5 412.4 193.5 410.4 184.5 410.7 174.5 414.4 158.5 418.1 136.5 421.6 125.5 426.3 114.5 430.6 106.5 438.1 94.5 449.5 79.9 461.6 55.5 466.5 49.8 473.5 45.1 491.5 37.3 498.5 35.4 505.5 34.5 517.5 35.1 554.5 41.4 554.5 193.5Z" fill="#89f6e6"/>
<path d="M552.5 193.5 417.2 193.5 415.5 189.4 414.3 184.5 413.8 179.5 414.1 173.5 420.2 149.5 423 132.5 426.2 122.5 430.4 112.5 435.8 102.5 451.9 79.5 463.6 55.5 466.9 51.5 471.5 48.2 492.5 39.4 498.5 37.8 504.5 37.1 515.5 38 537.5 42.6 554.5 45.1 554.5 191.9 553.1 193.5 552.5 193.5Z" fill="#8dfadb"/>
<path d="M547.5 193.5 500 193.5 493.5 191.9 486.5 191.5 479.5 192 472.8 193.5 422.6 193.5 420.5 190.1 418.6 185.5 417.7 181.5 417.3 176.5 417.7 171.5 419.4 164.5 425.1 149.5 426.8 132.5 430.2 120.5 433.9 111.5 438.7 102.5 453.9 79.5 464.9 56.5 467.5 53 471.5 50.1 494.5 41.3 499.5 40.1 503.5 39.7 513.5 40.7 537.5 46.3 554.5 48.6 554.5 186 550.2 191.5 548.2 193.5 547.5 193.5Z" fill="#90fbce"/>
<path d="M542.5 193.5 508 193.5 502.5 190.8 497.5 189.3 491.5 188.4 484.5 188.1 477.5 188.4 471.5 189.4 460.8 193.5 429.4 193.5 426.3 190.5 423.5 186.1 421.1 178.5 421.2 170.5 423.1 164.5 429.8 150.5 430.6 132.5 432 125.5 434.2 118.5 441 103.5 452.5 85.5 457 77.5 466.8 56.5 468.5 54.1 471.5 52 495.5 43.5 502.5 42.3 514.5 44 537.5 49.8 554.5 51.8 554.5 179.2 548.5 188.4 544.5 192.4 542.5 193.5Z" fill="#92fbc0"/>
<path d="M536.5 193.5 514.1 193.5 504.5 188.4 499.5 186.8 490.9 185.5 479.5 185 468.5 185.8 451.5 192.2 446.5 193.1 442.5 193.2 437.5 192.1 433.5 190.1 429.5 186.5 426.9 182.5 425 176.5 424.9 170.5 426.5 166.3 432.7 155.5 434.1 151.5 434.5 147.5 434 137.5 434.3 131.5 435.6 124.5 437.7 117.5 443.8 103.5 461.7 72.5 468.5 57.4 469.7 55.5 471.5 54.1 496.5 45.9 501.5 45 516.5 47.5 537.5 53.1 554.5 54.9 554.5 171.1 550.6 179.5 546.5 185.8 541.5 190.8 537.5 193.4 536.5 193.5Z" fill="#95fcb3"/>
<path d="M525.5 193.5 521.5 193.2 516.5 191.7 505.5 185.9 501.5 184.5 493.5 183.3 472.5 181.6 464.5 182.2 454 186.5 449.5 187.8 442.5 187.8 438.4 186.5 434.2 183.5 431.5 179.7 430.1 175.5 429.9 172.5 430.5 169.5 436.6 158.5 438.2 153.5 438.5 148.5 437.5 134.5 439.1 123.5 442.9 111.5 448.1 100.5 465 70.5 471.5 57.5 474.5 55.7 483.5 53.4 498.5 48.4 503.5 48.2 514.5 50.1 537.5 56.4 554.5 57.9 554.5 162.5 548.2 177.5 545.5 182.1 542.5 185.8 538.5 189.3 534.5 191.6 530.5 192.9 525.5 193.5Z" fill="#97fba7"/>
<path d="M528.5 190.6 523.5 190.9 518.5 189.9 513.5 187.7 506.5 183.5 503.5 182.5 478.5 179.6 467.5 177.3 461.5 177.6 451.5 182 445.5 182.4 440.5 180.3 438.5 178.2 437.2 175.5 437.3 170.5 442.2 160.5 443.1 156.5 443.1 151.5 440.8 136.5 441.3 128.5 444 116.5 448.6 104.5 460.5 81.6 473.5 60.9 477.4 58.5 495.5 52.3 502.5 51.6 512.5 52.6 523.5 55 535.5 59.1 548.5 59.7 554.5 60.7 554.5 155.6 551.5 161.5 545.8 175.5 542.3 181.5 539.5 184.7 536.1 187.5 532.5 189.4 528.5 190.6Z" fill="#99fa9c"/>
<path d="M529.5 187.7 524.5 188.5 519.5 187.8 514.5 185.8 505.5 180.6 478.5 177.3 458.5 169.9 454.5 170.1 450.5 174.6 448.9 174.5 448.1 173.5 448.5 171.1 451.3 167.5 451.6 164.5 445.5 144.5 443.8 133.5 445.8 120.5 448.9 109.5 452.8 100.5 461.3 83.5 471.5 68.5 478.5 62.4 494.5 55.5 502.5 54.8 513.5 55.5 524.5 57.9 535.5 61.9 547.5 62.2 554.5 63.4 554.5 150.4 550.1 157.5 543.6 173.5 540.5 179.1 535.5 184.6 529.5 187.7Z" fill="#9bf991"/>
<path d="M527.5 185.6 523.5 186.1 518.5 185.3 505.5 178.4 488.5 177.2 478.5 175.3 468.7 170.5 459.5 162.7 454 155.5 448.6 143.5 446.7 133.5 448.7 119.5 451 110.5 454.1 102.5 462.5 84.6 466.5 78.5 473.5 70 480.5 65 486.5 61.6 494.5 58.2 503.5 57.5 513.5 58 523.5 60 534.5 64.2 547.5 64.5 554.5 66 554.5 146.4 551.2 150.5 548.1 155.5 541 172.5 538.3 177.5 533.5 182.7 527.5 185.6Z" fill="#9ff887"/>
<path d="M525.5 183.6 522.5 183.9 518.5 183.1 506.5 176.9 488.5 175.7 479.5 173.6 475.1 171.5 468.5 167.3 460.9 159.5 455.4 151.5 451.2 141.5 449.8 132.5 450.7 122.5 452.3 114.5 456.5 101.5 463.5 86.1 468.5 78.7 475.4 71.5 487.5 63.7 495.5 60.5 503.5 59.8 513.5 60.4 522.5 62.2 533.5 66.1 547.5 66.7 554.5 68.6 554.5 143.1 549.6 148.5 546.4 153.5 538 172.5 535.5 176.8 530.8 181.5 525.5 183.6Z" fill="#a5f87c"/>
<path d="M523.5 181.6 520.5 181.6 517.5 180.7 507.2 175.5 488.5 174.2 480.5 172.2 475.5 169.7 468.6 164.5 461.6 156.5 456.8 148.5 453.5 139.5 452.7 134.5 452.6 129.5 454.5 114.5 458.8 100.5 464.5 87.5 469.5 80.2 476.3 73.5 487.5 66 495.5 62.7 503.5 61.9 513.5 62.5 521.5 64.2 533.5 68 547.5 68.9 554.5 71.2 554.5 140.2 548.5 146.4 544.9 151.5 533.2 175.5 528.5 180 523.5 181.6Z" fill="#abf871"/>
<path d="M522.5 179.5 517.5 178.7 510.5 175 507.5 174 489.5 173 482.5 171.3 477.5 169 470.5 163.8 464.1 156.5 459.3 148.5 456 139.5 455 129.5 456.4 115.5 460.2 101.5 465.5 88.9 470.5 81.6 476.7 75.5 488.5 67.5 496.5 64.4 504.5 63.7 514.5 64.6 533.5 69.8 548.5 71.2 554.5 74.1 554.5 137.5 547.5 144.5 544.4 148.5 538.5 158.5 533 170.5 530.6 174.5 526.5 178.2 522.5 179.5Z" fill="#b1f866"/>
<path d="M523.5 176.9 520.5 177.4 518.5 177 511.6 173.5 508.5 172.5 490.5 171.9 484.5 170.5 479.5 168.4 473.5 164.3 467.1 157.5 462 149.5 458.5 140.5 457.2 130.5 458.1 117.5 461.3 103.5 465.8 91.5 470.5 84 476.5 77.9 488.5 69.4 495.5 66.3 503.5 65.4 514.5 66.4 533.5 71.5 547.5 73.1 551.5 74.9 554.5 77.6 554.5 134.9 544.3 145.5 536 158.5 528.7 172.5 525.9 175.5 523.5 176.9Z" fill="#b7f85b"/>
<path d="M521.5 174.7 518.5 174.5 512.5 171.8 508.5 170.8 495.5 171.1 489.5 170.5 484.5 169.1 479.5 166.8 473.5 162.2 467.7 155.5 463.1 147.5 460.4 139.5 459.2 129.5 460 117.5 462.9 103.5 466.9 92.5 471.3 85.5 477.5 79.1 489.7 70.5 496.5 67.7 503.5 67 511.5 67.5 518.5 69 533.5 73.2 546.5 75 549.5 76.4 551.5 78 553.3 80.5 554.5 83.5 554.5 132.4 543.5 143.8 532.8 159.5 526.4 170.5 523.8 173.5 521.5 174.7Z" fill="#bef853"/>
<path d="M520.5 170.8 518.5 171 508.5 169.1 492.5 169.7 486.5 168.5 481.9 166.5 475.5 162 469.7 155.5 465 147.5 462.5 140.5 461.1 130.5 461.6 118.5 464.2 104.5 468 93.5 472.3 86.5 478.2 80.5 490.5 71.7 496.5 69.2 503.5 68.4 512.5 69.2 533.5 74.9 545.5 77 549.4 79.5 551.6 84.5 552.8 92.5 554.5 98 554.5 129.7 542.6 142.5 524.5 167.3 522.5 169.6 520.5 170.8Z" fill="#c5f94e"/>
<path d="M497.5 168.6 493.5 168.6 487.5 167.4 483.5 165.8 478.5 162.7 475 159.5 470.8 154.5 465.5 144.5 463.1 133.5 463.1 120.5 465.5 105.5 467.8 97.5 469.5 93.5 473.5 87.3 479.5 81.3 491.9 72.5 497.5 70.5 504.5 69.8 513.5 70.8 545.5 79.9 547.6 82.5 550 94.5 554.5 104.1 554.5 126.7 550.3 132.5 541.5 141.7 535.5 150.2 520.5 165.9 516.5 167.2 507.5 167.4 497.5 168.6Z" fill="#ccf949"/>
<path d="M501.5 166.6 494.5 167.4 487.5 166.1 480.5 162.4 476.1 158.5 471.3 152.5 466.8 143.5 464.9 134.5 464.4 125.5 465 116.5 467.2 104.5 469.6 96.5 473.5 89.5 480.2 82.5 492.7 73.5 496.5 72 504.5 71.1 512.5 71.9 521.5 74.1 536.5 79.5 543.1 83.5 544.7 86.5 547.5 95.8 552.8 105.5 554.5 109.8 554.5 122.8 552.5 127 549.3 131.5 540.9 140.5 535.3 148.5 526.5 157.2 517.5 163.7 501.5 166.6Z" fill="#d3f944"/>
<path d="M498.5 165.7 493.5 166 485.5 163.8 479 159.5 472.5 151.7 468 142.5 466.6 135.5 465.9 126.5 466.6 115.5 468.1 106.5 471 96.5 475.2 89.5 480.5 84 494.5 74 502.5 72.4 511.5 72.9 520.5 75.1 533.5 80 536.1 81.5 540.1 85.5 542.3 88.5 545.9 97.5 552 108.5 553.6 114.5 553.6 119.5 552.1 124.5 548.3 130.5 540.3 139.5 534.5 147.6 527.1 154.5 515.5 161.9 498.5 165.7Z" fill="#dafa3f"/>
<path d="M496.5 164.7 494.5 164.8 487.5 163.3 480.5 158.9 474.1 151.5 470 143.5 467.9 134.5 467.3 126.5 467.8 117.5 469.1 108.5 472.5 96.5 476.1 90.5 482.5 84 495.5 74.9 503.5 73.5 511.5 74 519.5 75.9 525.5 78.1 533.5 81.8 535.4 83.5 540.4 89.5 544.4 98.5 550 108.5 551.8 114.5 552 119.5 550.4 124.5 545.9 131.5 539.1 139.5 534 146.5 526.5 153.1 515.5 159.7 505.5 162.7 496.5 164.7Z" fill="#e1fa3c"/>
<path d="M498.5 162.7 494.5 163.2 487.5 161.5 481.3 157.5 474.6 149.5 470.8 141.5 469.1 133.5 468.7 125.5 469.9 111.5 471 105.5 473.5 97.5 477 91.5 482.7 85.5 495.5 76.3 503.5 74.7 511.5 75.1 518.5 76.8 524.5 78.9 531.7 82.5 534.5 84.8 539 90.5 548.1 108.5 550.1 114.5 550.3 119.5 549.2 123.5 545.7 129.5 534.5 144.2 531.5 147.3 524.5 152.8 515.5 157.8 505.5 161.1 498.5 162.7Z" fill="#e6fb3b"/>
<path d="M500.5 160.7 494.5 161.5 488.5 160.1 482.5 156.4 476.3 149.5 472.2 141.5 470.6 134.5 470 126.5 470.6 115.5 472.1 106.5 474.5 98.5 477.9 92.5 482.5 87.4 492.5 79.7 496.5 77.3 503.5 75.8 510.5 76.1 518.5 77.8 524.5 80 530.9 83.5 534.2 86.5 538 91.5 546.3 108.5 548.3 114.5 548.7 119.5 547 124.5 542.9 131.5 531.5 145.9 524.5 151.3 516.5 155.6 509.5 158.3 500.5 160.7Z" fill="#ecfb3b"/>
<path d="M497.5 159.6 494.5 159.7 490.5 159 484.5 155.9 478.5 150 474.6 143.5 472.5 137.5 471.4 129.5 471.6 118.5 472.8 108.5 475.1 100.5 477.5 95.5 481.2 90.5 486.5 85.5 494.5 79.6 498.5 77.9 504.5 76.8 513.5 77.5 519.5 79.1 527 82.5 531.4 85.5 535.1 89.5 538.2 94.5 545 109.5 546.8 115.5 546.9 120.5 544.9 125.5 539.7 134.5 533.5 142.5 529.5 146.2 522.5 151.1 514.5 155 505.5 157.9 497.5 159.6Z" fill="#f1fc3a"/>
<path d="M499.5 157.7 493.5 157.9 487.5 155.8 481.5 151.2 476.5 144.4 474 138.5 472.7 131.5 472.7 120.5 473.7 110.5 475.3 103.5 478.4 96.5 481.9 91.5 486.5 86.9 494.5 80.9 498.5 79 504.5 77.8 512.5 78.3 518.5 79.7 525.5 82.8 529.7 85.5 533.6 89.5 536.9 94.5 542.7 107.5 544.9 114.5 545.2 119.5 543.2 125.5 538.7 134.5 534.5 140.1 530.5 144.2 523.5 149.2 516.5 152.8 507.5 155.9 499.5 157.7Z" fill="#f4f839"/>
<path d="M502.5 155.6 495.5 156.3 490.5 155.3 484.5 151.8 479.5 146.5 476.1 140.5 474.4 134.5 473.7 127.5 474.1 116.5 475.2 108.5 476.9 102.5 480.3 95.5 484.3 90.5 488.6 86.5 496.5 80.9 503.5 78.9 509.5 78.9 516.5 80 522.7 82.5 527.9 85.5 532.5 89.8 535.7 94.5 540.2 104.5 542.9 113.5 543.4 119.5 541.7 125.5 537.8 134.5 534.5 138.9 530.5 143 524.5 147.3 517.5 151.2 509.5 153.9 502.5 155.6Z" fill="#f4f037"/>
<path d="M497.5 154.5 491.5 153.8 486.5 151.2 481.3 146.5 477.5 140.5 475.6 134.5 474.9 128.5 475.2 116.5 476.5 107.5 479.5 99.5 482.4 94.5 487.5 88.8 494.5 83.2 498.5 81.2 504.5 79.8 515.5 80.7 520.4 82.5 526.5 85.7 530.8 89.5 533.9 93.5 538.2 102.5 540.9 111.5 541.7 117.5 541 122.5 536.8 134.5 533.5 138.8 528.5 143.4 521.5 147.9 515.5 150.8 506.5 153.4 497.5 154.5Z" fill="#f4e835"/>
<path d="M502.5 152.6 495.5 152.8 490.5 151.5 484.5 147.6 479.5 141.6 477.4 136.5 476.2 130.5 476.3 117.5 477.2 109.5 478.6 104.5 482.5 96.1 487.5 90.1 494.4 84.5 498.5 82.3 504.5 80.7 514.5 81.4 518.2 82.5 525.5 86.2 529.5 89.6 532.8 93.5 536.6 101.5 538.5 107.5 539.9 114.5 539.5 121.5 535.9 134.5 529.5 141.5 524.5 145 516.5 149.3 507.5 151.8 502.5 152.6Z" fill="#f4e033"/>
<path d="M507.5 150.5 502.5 151.1 494.5 151 490.5 149.6 486.5 147.2 482.5 143.4 479.9 139.5 477.9 133.5 477.3 127.5 477.5 116.5 478.5 108.5 479.5 105.1 482.8 97.5 488.5 90.5 495.5 84.8 499.5 83.1 505.5 81.6 514.5 82.3 517.5 83.1 524.5 86.6 529.9 91.5 532.2 94.5 535.9 102.5 538.4 115.5 537.7 123.5 536.1 131.5 535 134.5 533.5 136.5 527.5 141.9 518.5 147.2 515.5 148.6 507.5 150.5Z" fill="#f3d230"/>
<path d="M506.5 149.5 494.5 149.4 486.5 145.2 482.5 141.1 481 138.5 479 132.5 478.5 124.5 478.6 116.5 479.8 107.5 484 97.5 489.5 90.8 496.2 85.5 503.5 82.9 506.5 82.5 516.5 83.6 524.2 87.5 529.5 92.5 531.5 95.3 535.1 103.5 536.9 114.5 536.1 125.5 534.9 132.5 533.5 135.3 527.5 140.8 517.5 146.6 514.5 147.8 506.5 149.5Z" fill="#f1be2d"/>
<path d="M509.5 147.7 504.5 148.5 495.5 148 488.1 144.5 484 140.5 482.6 138.5 480.4 132.5 479.8 126.5 479.7 117.5 481 107.5 484.4 98.5 490.1 91.5 496.5 86.4 505.5 83.5 516.5 84.6 523.5 88.2 529.1 93.5 530.5 95.5 534 103.5 535.4 113.5 535 124.5 533.8 132.5 533 134.5 528.5 138.9 523.5 142.4 515.5 146.5 509.5 147.7Z" fill="#efaa2a"/>
<path d="M509.5 146.6 504.5 147.2 496.5 146.6 493.5 145.6 488.5 142.8 485.2 139.5 483.9 137.5 481.8 131.5 480.9 124.5 480.9 117.5 482.1 107.5 484.9 99.5 490.5 92.4 495.5 88.2 498.5 86.6 505.5 84.6 515.5 85.3 522.2 88.5 524.5 90.3 529.3 95.5 532 101.5 533 104.5 534.1 113.5 533.8 124.5 532.7 132.5 531.6 134.5 527.6 138.5 522.5 141.9 515.5 145.4 509.5 146.6Z" fill="#ee9b27"/>
<path d="M509.5 145.5 504.5 146 497.5 145.4 493.5 144 489.3 141.5 486.4 138.5 484.8 135.5 482.9 129.5 481.9 122.5 482 117.5 483.2 107.5 484.2 103.5 485.8 99.5 491.5 92.5 495.5 89.2 499.5 87.3 506.5 85.6 514.5 86.1 517.5 87 522.5 89.8 527.2 94.5 529.2 97.5 531.5 103.5 532.8 113.5 532.7 124.5 531.5 131.9 530.1 134.5 526.5 138.2 521.5 141.3 515.5 144.4 509.5 145.5Z" fill="#ed9225"/>
<path d="M509.5 144.5 503.5 144.9 497.5 144.1 493.4 142.5 489.5 139.9 487.4 137.5 486 134.5 483.8 127.5 482.9 121.5 484.3 106.5 485.2 102.5 486.5 99.9 492.5 92.5 495.5 90.1 499.5 88.3 506.5 86.6 515.5 87.2 519.5 88.9 522.9 91.5 527.5 96.4 529.1 99.5 530.8 105.5 531.6 112.5 531.7 124.5 530.3 131.5 528.7 134.5 524.5 138.5 517.5 142.4 513.5 144 509.5 144.5Z" fill="#ed8823"/>
<path d="M509.5 143.6 503.5 143.8 498.5 143.1 493.5 141.2 490.5 139.1 487.4 134.5 484.6 126.5 483.8 121.5 485.3 105.5 486.9 100.5 493.5 92.5 495.5 90.9 499.5 89.2 506.5 87.6 515.5 88.1 518.5 89.2 521.7 91.5 527.7 98.5 529.6 104.5 530.6 111.5 530.8 124.5 529 131.5 527.4 134.5 524.4 137.5 516.5 142 513.5 143.1 509.5 143.6Z" fill="#ec7f21"/>
<path d="M511.5 142.5 500.5 142.5 495.5 140.8 491.6 138.5 488.7 134.5 485.7 126.5 484.7 122.5 484.7 118.5 486 105.5 487 101.5 493.4 93.5 495.5 91.7 505.5 88.5 515.5 89 518.5 90.1 520.5 91.5 526.8 98.5 528.2 102.5 529.7 110.5 530 123.5 526.9 133.5 525.4 135.5 522.5 137.7 515.5 141.5 511.5 142.5Z" fill="#eb761f"/>
<path d="M512.5 141.5 501.5 141.7 497.5 140.5 492.5 137.9 489.8 134.5 485.5 122.5 485.4 118.5 486.7 104.5 487.7 101.5 495.5 92.4 505.5 89.2 515.5 89.8 519.5 91.6 525.2 97.5 526.4 99.5 528.8 109.5 529.2 123.5 526.3 132.5 525.1 134.5 522.5 136.7 515.5 140.6 512.5 141.5Z" fill="#ea6d1e"/>
<path d="M512.5 140.7 501.5 140.8 493.5 137.4 490.8 134.5 486.2 122.5 486.1 118.5 487.3 104.5 488.3 101.5 495.5 93 505.5 89.9 515.5 90.5 517.5 91.1 519.4 92.5 525.6 99.5 528.2 110.5 528.5 123.5 525.3 132.5 522.5 135.7 515.5 139.7 512.5 140.7Z" fill="#e9651d"/>
<path d="M513.5 139.7 501.5 139.9 493.5 136.3 491.3 133.5 486.9 122.5 486.9 114.5 487.9 104.5 488.9 101.5 495.8 93.5 505.5 90.5 515.5 91.2 518.5 92.6 524.9 99.5 527.4 109.5 527.8 123.5 524.4 132.5 522.5 134.7 513.5 139.7Z" fill="#e85c1c"/>
<path d="M513.5 138.9 511.5 139.3 501.5 139.1 493.8 135.5 492.1 133.5 487.6 122.5 487.4 114.5 488.9 102.5 492.5 97.8 496.5 93.6 505.5 91 515.5 91.9 518.5 93.5 524.2 99.5 527 110.5 527.1 123.5 523.5 132.5 521.5 134.5 513.5 138.9Z" fill="#e74a19"/>
<path d="M510.5 138.5 501.5 138.3 493.8 134.5 489.1 125.5 487.8 120.5 487.9 114.5 489.4 102.5 492.5 98.3 496.5 94.2 505.5 91.5 515.5 92.6 517.6 93.5 522.7 98.5 524.1 100.5 526.6 111.5 526.4 123.5 522.6 132.5 513.5 138 510.5 138.5Z" fill="#e63816"/>
<path d="M512.5 137.6 502.5 137.7 494.5 134.1 491 128.5 488.5 121.5 488.3 114.5 489.9 102.5 492.7 98.5 496.5 94.8 505.5 92 515.5 93.3 518.5 95.1 523.5 100.5 526 110.5 525.9 122.5 522.5 131.3 520.5 133.3 512.5 137.6Z" fill="#e52d14"/>
<path d="M512.5 136.7 507.5 137.2 502.5 136.9 495 133.5 492 129.5 489.1 121.5 488.7 114.5 490.5 102.5 493.1 98.5 496.5 95.4 505.5 92.4 515.5 93.9 520.4 97.5 522.9 100.5 525.6 111.5 525.3 122.5 522.5 129.9 520.5 132.5 512.5 136.7Z" fill="#e42212"/>
<path d="M509.5 136.5 502.5 136.1 494.5 132.3 491.1 126.5 489.3 119.5 489.1 114.5 490.3 104.5 492.1 100.5 493.5 98.5 496.5 96 505.5 92.9 515.5 94.6 520.5 98.2 522.7 101.5 525.3 112.5 524.7 122.5 521.5 130.5 519.5 132.3 513.5 135.5 509.5 136.5Z" fill="#e31e11"/>
<path d="M510.5 135.7 503.5 135.6 495.5 132.3 493.5 130.3 492 127.5 489.8 119.5 489.5 113.5 490.8 104.5 493 99.5 497.5 95.9 505.5 93.3 515.5 95.2 520.3 98.5 522.2 101.5 524.9 112.5 524.1 122.5 521.5 129.5 518.5 132.1 510.5 135.7Z" fill="#e21a10"/>
<path d="M511.5 134.7 508.5 135.4 504.5 135.2 495.5 131.6 493.5 129.5 492.4 127.5 490.2 119.5 489.8 113.5 491.2 104.5 492.8 100.5 494.3 98.5 496.5 96.9 505.5 93.7 507.5 93.7 515.5 95.9 519.7 98.5 521.7 101.5 524.5 112.5 523.5 122.5 521.5 128.5 519.5 130.8 511.5 134.7Z" fill="#de1710"/>
<path d="M509.5 134.6 506.5 134.9 503.5 134.3 496.5 131.5 494.5 130.1 493.3 128.5 491.8 124.5 490.2 115.5 491.7 104.5 493.7 99.5 497.5 96.9 505.5 94 507.5 94.1 515.5 96.5 519.5 98.8 521.2 101.5 524 112.5 522.9 122.5 520.9 128.5 518.5 130.7 509.5 134.6Z" fill="#d51410"/>
<path d="M510.5 133.6 507.5 134.3 504.5 133.9 496.5 130.8 494.6 129.5 493.3 127.5 492.3 124.5 490.6 115.5 490.7 112.5 492.3 103.5 494.1 99.5 497.5 97.4 505.5 94.4 507.5 94.5 515.5 97 519.5 99.4 520.7 101.5 523.6 112.5 522.2 123.5 520.5 128.2 518.5 129.9 510.5 133.6Z" fill="#cc1110"/>
<path d="M508.5 133.6 504.5 133.2 496.5 130.2 494.5 128.7 492.6 123.5 490.9 114.5 492.8 103.5 494.4 99.5 497.5 97.8 505.5 94.8 507.5 95 515.5 97.6 519 99.5 520.2 101.5 523.3 113.5 521.4 124.5 520.4 127.5 518.5 129.2 508.5 133.6Z" fill="#c30e10"/>
<path d="M509.5 132.5 507.5 133.1 505.5 132.8 496.5 129.5 495 128.5 493.5 125.1 491.3 114.5 493.4 102.5 494.5 99.9 496.5 98.7 505.5 95.3 507.7 95.5 518.5 99.6 519.7 101.5 522.8 113.5 520.6 125.5 519.7 127.5 518.5 128.5 509.5 132.5Z" fill="#b60b10"/>
<path d="M509.5 131.7 506.5 132.3 495.5 128.2 494.2 125.5 491.7 114.5 494.5 100.4 496.5 99.1 505.5 95.7 507.5 95.9 516.5 99.1 518.5 100.3 522.4 113.5 519.5 126.7 518.5 127.7 509.5 131.7Z" fill="#a5080f"/>
<path d="M509.5 130.7 506.5 131.4 495.7 127.5 494.5 124.6 492.1 114.5 494.3 102.5 495 100.5 505.5 96.2 507.5 96.5 517.8 100.5 518.8 102.5 521.8 113.5 518.6 126.5 509.5 130.7Z" fill="#94050e"/>
<path d="M509.5 129.7 506.5 130.4 496.5 127.1 495.5 125.5 492.6 114.5 494.8 102.5 495.5 100.8 505.5 96.8 507.5 97.1 517.5 101.2 521.2 113.5 518.1 125.5 517 126.5 509.5 129.7Z" fill="#89040e"/>
<path d="M509.5 128.7 507.5 129.3 505.5 129.2 497.4 126.5 495.6 123.5 493.2 114.5 495.7 101.5 496.9 100.5 505.5 97.5 507.5 97.7 516.7 101.5 517.5 102.7 520.5 113 520.3 115.5 517.5 124.5 515.5 126.1 509.5 128.7Z" fill="#82030d"/>
<path d="M509.5 127.5 505.5 128 497.8 125.5 496.5 123.5 493.9 114.5 495.7 103.5 496.5 101.6 505.5 98.2 508.5 98.8 515.1 101.5 516.4 102.5 519.7 112.5 519.5 115.7 516.5 123.9 514.5 125.4 509.5 127.5Z" fill="#7b020c"/>
<path d="M508.5 126.6 504.5 126.7 498.5 124.6 496.5 120.9 494.6 114.5 494.8 111.5 496.9 102.5 498.5 101.3 505.5 99 508.5 99.5 515.5 103 516.5 104.6 518.9 112.5 518.4 116.5 515.5 123.1 513.5 124.6 508.5 126.6Z" fill="#74010b"/>
<path d="M506.5 125.5 502.5 125 499.3 123.5 497.5 120.8 495.5 113.5 497.5 103.3 500 101.5 505.5 99.8 508.8 100.5 514.6 103.5 516.5 107.2 518 113.5 516.6 118.5 514.5 122.1 510.5 124.5 506.5 125.5Z" fill="#6f000a"/>
<path d="M508.5 123.5 504.5 123.9 500.5 122.5 498.5 119.9 496.7 114.5 497.5 106.6 498.5 103.7 500 102.5 504.5 100.9 508.5 101.3 513.5 103.9 515.2 106.5 516.7 111.5 516.5 115.5 514.5 119.6 512.5 121.6 508.5 123.5Z" fill="#6c000a"/>
<path d="M507.5 121.6 504.5 121.9 501.5 120.8 499.5 118.2 498.3 114.5 498.5 107.9 499.5 104.5 501.5 103 504.5 102 508.5 102.5 512.3 104.5 514.4 107.5 515.5 111.5 515.3 114.5 513.5 117.8 511.5 119.6 507.5 121.6Z" fill="#690009"/>
<path d="M506.5 118.5 504.5 118.7 502.4 117.5 501.7 115.5 502.4 112.5 500.5 108.5 500.6 106.5 501.5 105 503.5 103.8 505.5 103.4 508.5 104 511.5 105.8 513.2 108.5 513.8 111.5 513.6 113.5 512.5 115.3 506.5 118.5Z" fill="#660009"/>
<path d="M508.5 113.8 506.2 113.5 504.3 107.5 504.6 106.5 505.5 106 508.5 106.4 510.7 108.5 511 111.5 510.5 112.5 508.5 113.8Z" fill="#630009"/></g>
<g fill="none" stroke="#141c1c" stroke-width="1.45" stroke-opacity="0.9">
<path d="M403.5 193.5 402.8 185.5 403.5 176.5 407.5 160.5 408.2 149.5 409.5 142.5 413.9 127.5 421.8 111.5 427.4 102.5 438.4 86.5 446.2 77.5 454.2 60.5 459.5 51.9 464.9 46.5 471.5 41.3 479.5 36.8 488.5 32.8 502.5 29.2 510.5 28.3 519.5 28.6 554.5 33.4"/>
<path d="M554.5 146.4 551.2 150.5 548.1 155.5 540.5 173.5 536.8 179.5 533.5 182.7 529.5 185 525.5 186 521.5 186 515.5 184 505.8 178.5 488.5 177.2 479.4 175.5 476.5 174.5 467.5 169.8 459.5 162.7 453.4 154.5 448.9 144.5 446.7 133.5 448.3 121.5 450.6 111.5 454.5 101.5 459 91.5 462.6 84.5 467.5 77.2 473.5 70 480.5 65 487.5 61.1 494.5 58.2 503.5 57.5 513.5 58 522.5 59.8 534.5 64.2 547.5 64.5 554.5 66"/>
<path d="M496.5 164.7 494.5 164.8 487.5 163.3 480.5 158.9 474.1 151.5 470 143.5 467.9 134.5 467.3 126.5 467.8 117.5 469.1 108.5 471.5 98.9 472.5 96.5 476.1 90.5 482.5 84 495.5 74.9 503.5 73.5 511.5 74 519.5 75.9 525.5 78.1 533.5 81.8 535.4 83.5 540.4 89.5 544.4 98.5 550 108.5 551.8 114.5 552 119.5 550.4 124.5 545.9 131.5 539.1 139.5 534 146.5 526.5 153.1 515.5 159.7 505.5 162.7 496.5 164.7"/>
<path d="M509.5 147.7 504.5 148.5 495.5 148 488.1 144.5 484 140.5 482.6 138.5 480.4 132.5 479.8 126.5 479.7 117.5 481 107.5 484.4 98.5 490.1 91.5 496.5 86.4 505.5 83.5 514.5 84.1 516.5 84.6 523.5 88.2 529.1 93.5 530.5 95.5 534 103.5 535.4 113.5 535 124.5 533.8 132.5 533 134.5 528.5 138.9 523.5 142.4 515.5 146.5 509.5 147.7"/>
<path d="M510.5 138.5 501.5 138.3 493.8 134.5 492.5 132.7 489.1 125.5 487.8 120.5 487.9 114.5 489.4 102.5 492.5 98.3 496.5 94.2 505.5 91.5 515.5 92.6 517.6 93.5 522.7 98.5 524.1 100.5 526.6 111.5 526.4 123.5 522.6 132.5 521.5 133.6 513.5 138 510.5 138.5"/>
</g></g>
<circle cx="466.5" cy="106.0" r="80.5" fill="none" stroke="#000" stroke-width="2.3"/>
<path d="M453.2 24.2 L464.0 15.6 Q467.2 11.2 470.4 15.6 L481.2 24.2" fill="none" stroke="#000" stroke-width="4.3" stroke-linejoin="round" stroke-linecap="round"/>

<g stroke="#000" fill="none">
 <line x1="77.9" y1="225.4" x2="77.9" y2="494" stroke-width="2.7"/>
 <g stroke-width="2.8">
  <line x1="77.9" y1="227" x2="86.3" y2="227"/>
  <line x1="77.9" y1="284.5" x2="86.3" y2="284.5"/>
  <line x1="77.9" y1="342" x2="86.3" y2="342"/>
  <line x1="77.9" y1="396.3" x2="86.3" y2="396.3"/>
  <line x1="77.9" y1="454" x2="86.3" y2="454"/>
 </g>
 <line x1="604" y1="225.4" x2="604" y2="494.6" stroke-width="2.6"/>
 <g stroke-width="2.8">
  <line x1="596.4" y1="227" x2="604" y2="227"/>
  <line x1="596.4" y1="284.1" x2="604" y2="284.1"/>
  <line x1="596.4" y1="341.1" x2="604" y2="341.1"/>
  <line x1="596.4" y1="398.2" x2="604" y2="398.2"/>
  <line x1="596.4" y1="455.3" x2="604" y2="455.3"/>
 </g>
 <line x1="77.7" y1="506.1" x2="77.7" y2="513.6" stroke-width="2.8"/>
 <line x1="77" y1="510.9" x2="305.5" y2="510.9" stroke-width="3.1"/>
 <line x1="305" y1="511.4" x2="603" y2="511.4" stroke-width="2.6"/>
 <line x1="603.5" y1="503" x2="603.5" y2="513.7" stroke-width="2.6"/>
 <g stroke-width="2.6">
  <line x1="169.6" y1="503.1" x2="169.6" y2="512"/>
  <line x1="261.5" y1="503.1" x2="261.5" y2="512"/>
  <line x1="422.6" y1="503.1" x2="422.6" y2="513"/>
  <line x1="511.5" y1="503.1" x2="511.5" y2="513"/>
  <line x1="330.3" y1="511" x2="330.3" y2="513.6" stroke-width="2"/>
  <line x1="352.8" y1="511" x2="352.8" y2="513.6" stroke-width="2"/>
 </g>
</g>
<g font-family="Liberation Sans, sans-serif" font-size="23" fill="#000">
 <text x="66.55" y="233.85" text-anchor="end">28</text>
 <text x="64.85" y="289.15" text-anchor="end">27</text>
 <text x="64.85" y="347.55" text-anchor="end">26</text>
 <text x="66.35" y="407.05" text-anchor="end">25</text>
 <text x="66.55" y="464.55" text-anchor="end">24</text>
 <text x="66.15" y="516.95" text-anchor="end">0</text>
 <text x="612.55" y="234.95">28</text>
 <text x="615.25" y="289.15">27</text>
 <text x="615.25" y="347.15">26</text>
 <text x="615.25" y="403.95">25</text>
 <text x="615.25" y="461.35">24</text>
 <text x="615.5" y="516.8">0</text>
</g>
<g font-family="Liberation Sans, sans-serif" font-size="22" fill="#000">
 <text x="137.2" y="538.8" textLength="61" lengthAdjust="spacingAndGlyphs">stable</text>
 <text x="219.1" y="538.8" textLength="88.4" lengthAdjust="spacingAndGlyphs">unstable</text>
 <text x="389.5" y="538.8" textLength="62.2" lengthAdjust="spacingAndGlyphs">stable</text>
 <text x="472.4" y="538.8" textLength="87.6" lengthAdjust="spacingAndGlyphs">unstable</text>
</g>
<g font-family="Liberation Sans, sans-serif" fill="#000">
<text transform="translate(21.2 486.8) rotate(-90)" font-size="21" textLength="132.4" lengthAdjust="spacing">power 10*log</text>
<text transform="translate(22.6 352.4) rotate(-90)" font-size="14.4" textLength="15.4" lengthAdjust="spacing">10</text>
<text transform="translate(21.2 336.4) rotate(-90)" font-size="21" textLength="85" lengthAdjust="spacing"><tspan>(µV</tspan><tspan font-size="13" dy="-7.4">2</tspan><tspan dy="7.4">/Hz)</tspan></text>
</g>
<g font-family="Liberation Sans, sans-serif" font-weight="bold" font-size="26.6" fill="#000" stroke="#000" stroke-width="0.6">
 <text x="73.8" y="23">A</text>
 <text x="328.9" y="23">B</text>
</g>
<!-- significance bars -->
<g stroke="#3c3c3c" stroke-width="1.9" fill="none">
 <line x1="167.8" y1="248.7" x2="263.3" y2="248.7"/>
 <line x1="167.8" y1="244.6" x2="167.8" y2="252.8"/>
 <line x1="263.3" y1="244.6" x2="263.3" y2="252.8"/>
 <line x1="418.7" y1="248.9" x2="514.2" y2="248.9"/>
 <line x1="418.7" y1="244.6" x2="418.7" y2="252.9"/>
 <line x1="514.2" y1="244.6" x2="514.2" y2="252.9"/>
 <line x1="149.2" y1="311.6" x2="149.2" y2="354"/>
 <line x1="144.9" y1="311.6" x2="153.4" y2="311.6"/>
 <line x1="144.9" y1="354" x2="153.4" y2="354"/>
</g>
<g font-family="Liberation Sans, sans-serif" font-size="22" font-weight="bold" fill="#000" text-anchor="middle">
 <text x="216.6" y="245.6">*</text>
 <text x="466.5" y="247.4">*</text>
</g>
<g stroke="#262626" fill="none">
 <line x1="215.9" y1="397.3" x2="215.9" y2="411.8" stroke-width="2.1"/>
 <line x1="211.8" y1="401.3" x2="220" y2="401.3" stroke-width="1.9"/>
 <line x1="469" y1="397.6" x2="469" y2="411.8" stroke-width="2.1"/>
 <line x1="464.9" y1="401.5" x2="473.1" y2="401.5" stroke-width="1.9"/>
</g>
<text x="136.9" y="337.2" font-family="Liberation Sans, sans-serif" font-size="15.6" fill="#333" stroke="#333" stroke-width="0.5" text-anchor="middle">Δ</text>
<!-- dagger bars -->
<line x1="170.6" y1="415.8" x2="260.3" y2="415.8" stroke="#444" stroke-width="2"/>
<circle cx="170.6" cy="415.8" r="3.4" fill="#2a2a2a"/>
<circle cx="260.3" cy="415.8" r="3.4" fill="#2a2a2a"/>
<line x1="423" y1="416.9" x2="512" y2="416.9" stroke="#333" stroke-width="1.6" stroke-dasharray="2.3 2.3"/>
<circle cx="419.6" cy="416.9" r="2.9" fill="#fff" stroke="#2a2a2a" stroke-width="1.7"/>
<circle cx="515.5" cy="416.9" r="2.9" fill="#fff" stroke="#2a2a2a" stroke-width="1.7"/>
<!-- data left -->
<line x1="169.3" y1="312.5" x2="261" y2="355.1" stroke="#000" stroke-width="2.3"/>
<line x1="178.1" y1="353.1" x2="255" y2="351.2" stroke="#000" stroke-width="2.6" stroke-dasharray="2.6 6.1"/>
<circle cx="169.2" cy="353.5" r="5.6" fill="#fff" stroke="#000" stroke-width="2"/>
<circle cx="261" cy="351" r="5.6" fill="#fff" stroke="#000" stroke-width="2"/>
<circle cx="169.3" cy="312.5" r="6.8" fill="#000"/>
<circle cx="261" cy="355.1" r="6.8" fill="#000"/>
<!-- data right -->
<line x1="421.1" y1="317.1" x2="512.4" y2="306.3" stroke="#000" stroke-width="2.3"/>
<line x1="428.5" y1="276.8" x2="506" y2="333.5" stroke="#000" stroke-width="2.6" stroke-dasharray="2.6 5.9"/>
<circle cx="421.5" cy="271.9" r="6" fill="#fff" stroke="#000" stroke-width="2"/>
<circle cx="512.5" cy="337.9" r="6" fill="#fff" stroke="#000" stroke-width="2"/>
<circle cx="421.1" cy="317.1" r="7" fill="#000"/>
<circle cx="512.4" cy="306.3" r="7" fill="#000"/>

</svg>
</body></html>
